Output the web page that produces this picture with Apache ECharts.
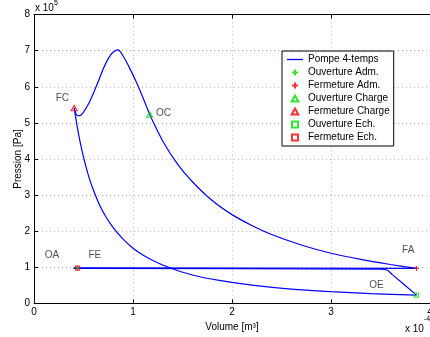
<!DOCTYPE html>
<html><head><meta charset="utf-8">
<script src="https://cdn.jsdelivr.net/npm/echarts@6/dist/echarts.min.js"></script>
<style>html,body{margin:0;padding:0;background:#fff}#c{width:430px;height:337px}</style>
</head><body><div id="c"></div>
<script>
// Volume in units of 1e-4 m^3, pressure in units of 1e5 Pa
const xTicks = ['0','1','2','3','4'];
const yTicks = ['0','1','2','3','4','5','6','7','8'];

const intake = [[0.40,0.99],[3.864,0.97]];
const compression = [[3.864,0.97],[3.6,1.08],[3.3,1.22],[3.0,1.39],[2.7,1.62],[2.4,1.91],[2.2,2.16],[2.0,2.46],[1.8,2.85],[1.6,3.37],[1.45,3.86],[1.3,4.50],[1.168,5.23]];
const charge = [[1.168,5.23],[1.10,5.70],[1.03,6.15],[0.96,6.55],[0.90,6.85],[0.85,7.02],[0.80,6.96],[0.75,6.78],[0.70,6.50],[0.65,6.15],[0.60,5.82],[0.55,5.52],[0.50,5.30],[0.46,5.20],[0.44,5.20],[0.42,5.28],[0.406,5.41]];
const expansion = [[0.406,5.41],[0.43,5.00],[0.46,4.55],[0.50,4.05],[0.55,3.54],[0.60,3.14],[0.665,2.71],[0.73,2.38],[0.80,2.10],[0.90,1.78],[1.0,1.53],[1.1,1.34],[1.2,1.19],[1.37,0.99],[1.6,0.79],[1.87,0.64],[2.2,0.51],[2.6,0.40],[3.0,0.33],[3.4,0.276],[3.864,0.232]];
const exhaust = [[3.864,0.232],[3.62,0.80],[3.57,0.92],[3.50,0.952],[0.40,0.975]];

const ptOA = [[0.44,0.985]];
const ptFA = [[3.864,0.97]];
const ptOC = [[1.168,5.23]];
const ptFC = [[0.406,5.41]];
const ptOE = [[3.864,0.232]];
const ptFE = [[0.44,0.98]];

const annotations = [[0.287,5.67,'FC'],[1.309,5.28,'OC'],[0.181,1.34,'OA'],[0.614,1.34,'FE'],[3.78,1.48,'FA'],[3.46,0.51,'OE']];

const FONT = 'Liberation Sans';
const BLUE = '#0000ff', GREEN = '#00e000', RED = '#ff0000';
const PLUS = 'path://M5,0 L5,10 M0,5 L10,5';
const TRI = 'path://M5,0 L10,9 L0,9 Z';
const SQR = 'path://M0,0 L10,0 L10,10 L0,10 Z';
const LINEICON = 'path://M0,0 L16,0 L16,1.3 L0,1.3 Z';

function cycleLine(data){
  return {type:'line', name:'Pompe 4-temps', data:data, symbol:'none', smooth:0.25,
    lineStyle:{color:BLUE, width:1.2}, itemStyle:{color:BLUE}, silent:true, z:2, animation:false};
}
function marker(name, data, symbol, color, size){
  return {type:'scatter', name:name, data:data, symbol:symbol, symbolSize:size, symbolKeepAspect:true,
    itemStyle:{color:'none', borderColor:color, borderWidth:1.2}, z:5, silent:true, animation:false};
}

const chart = echarts.init(document.getElementById('c'), null, {renderer:'canvas'});
const axisCommon = {
  axisLine:{show:true, onZero:false, lineStyle:{color:'#000', width:1}},
  axisTick:{show:true, inside:true, length:4, lineStyle:{color:'#000'}},
  splitLine:{show:true, lineStyle:{color:'#b8b8b8', type:[1,3], width:1}},
  axisLabel:{color:'#000', fontFamily:FONT, fontSize:10}
};
chart.setOption({
  animation:false,
  backgroundColor:'#fff',
  textStyle:{fontFamily:FONT},
  grid:{left:34, right:0, top:14.5, bottom:33.5, containLabel:false, outerBoundsMode:'none'},
  xAxis:[
    Object.assign({}, axisCommon, {type:'value', min:0, max:4, interval:1, position:'bottom',
      axisLabel:Object.assign({}, axisCommon.axisLabel, {margin:4, formatter:(v)=>xTicks[Math.round(v)]}),
      name:'Volume [m³]', nameLocation:'middle', nameGap:19, nameMoveOverlap:false,
      nameTextStyle:{color:'#000', fontFamily:FONT, fontSize:10}}),
    {type:'value', min:0, max:4, interval:1, position:'top',
      axisLine:{show:true, onZero:false, lineStyle:{color:'#000', width:1}},
      axisTick:{show:true, inside:true, length:4, lineStyle:{color:'#000'}},
      axisLabel:{show:false}, splitLine:{show:false}}
  ],
  yAxis:[
    Object.assign({}, axisCommon, {type:'value', min:0, max:8, interval:1, position:'left',
      axisLabel:Object.assign({}, axisCommon.axisLabel, {margin:4, formatter:(v)=>yTicks[Math.round(v)]}),
      name:'Pression [Pa]', nameLocation:'middle', nameGap:11, nameMoveOverlap:false,
      nameTextStyle:{color:'#000', fontFamily:FONT, fontSize:10}})
  ],
  legend:{
    orient:'vertical', left:282, top:51,
    backgroundColor:'#fff', borderColor:'#000', borderWidth:1,
    padding:[2,4,2,5], itemGap:0, itemWidth:16, itemHeight:6,
    symbolKeepAspect:true,
    textStyle:{color:'#000', fontFamily:FONT, fontSize:10, lineHeight:13},
    selectedMode:false,
    data:[
      {name:'Pompe 4-temps', icon:LINEICON, itemStyle:{color:BLUE, borderWidth:0}},
      {name:'Ouverture Adm.', icon:PLUS},
      {name:'Fermeture Adm.', icon:PLUS},
      {name:'Ouverture Charge', icon:TRI},
      {name:'Fermeture Charge', icon:TRI},
      {name:'Ouverture Ech.', icon:SQR},
      {name:'Fermeture Ech.', icon:SQR}
    ]
  },
  graphic:[
    {type:'text', left:35, top:3, style:{text:'x 10', fill:'#000', font:'10px "Liberation Sans"'}},
    {type:'text', left:54, top:0, style:{text:'5', fill:'#000', font:'7px "Liberation Sans"'}},
    {type:'text', left:405, top:324, style:{text:'x 10', fill:'#000', font:'10px "Liberation Sans"'}},
    {type:'text', left:424, top:316, style:{text:'-4', fill:'#000', font:'7px "Liberation Sans"'}}
  ],
  series:[
    cycleLine(intake), cycleLine(compression), cycleLine(charge), cycleLine(expansion), cycleLine(exhaust),
    marker('Ouverture Adm.', ptOA, PLUS, GREEN, 5),
    marker('Fermeture Adm.', ptFA, PLUS, RED, 5),
    marker('Ouverture Charge', ptOC, TRI, GREEN, 6),
    marker('Fermeture Charge', ptFC, TRI, RED, 6),
    marker('Ouverture Ech.', ptOE, SQR, GREEN, 4),
    marker('Fermeture Ech.', ptFE, SQR, RED, 4),
    {type:'scatter', name:'annot', data:annotations, symbolSize:1, itemStyle:{color:'transparent'},
      label:{show:true, position:'inside', formatter:(p)=>p.data[2], color:'#222', fontFamily:FONT, fontSize:10},
      z:4, silent:true, animation:false}
  ]
});
</script>
</body></html>
